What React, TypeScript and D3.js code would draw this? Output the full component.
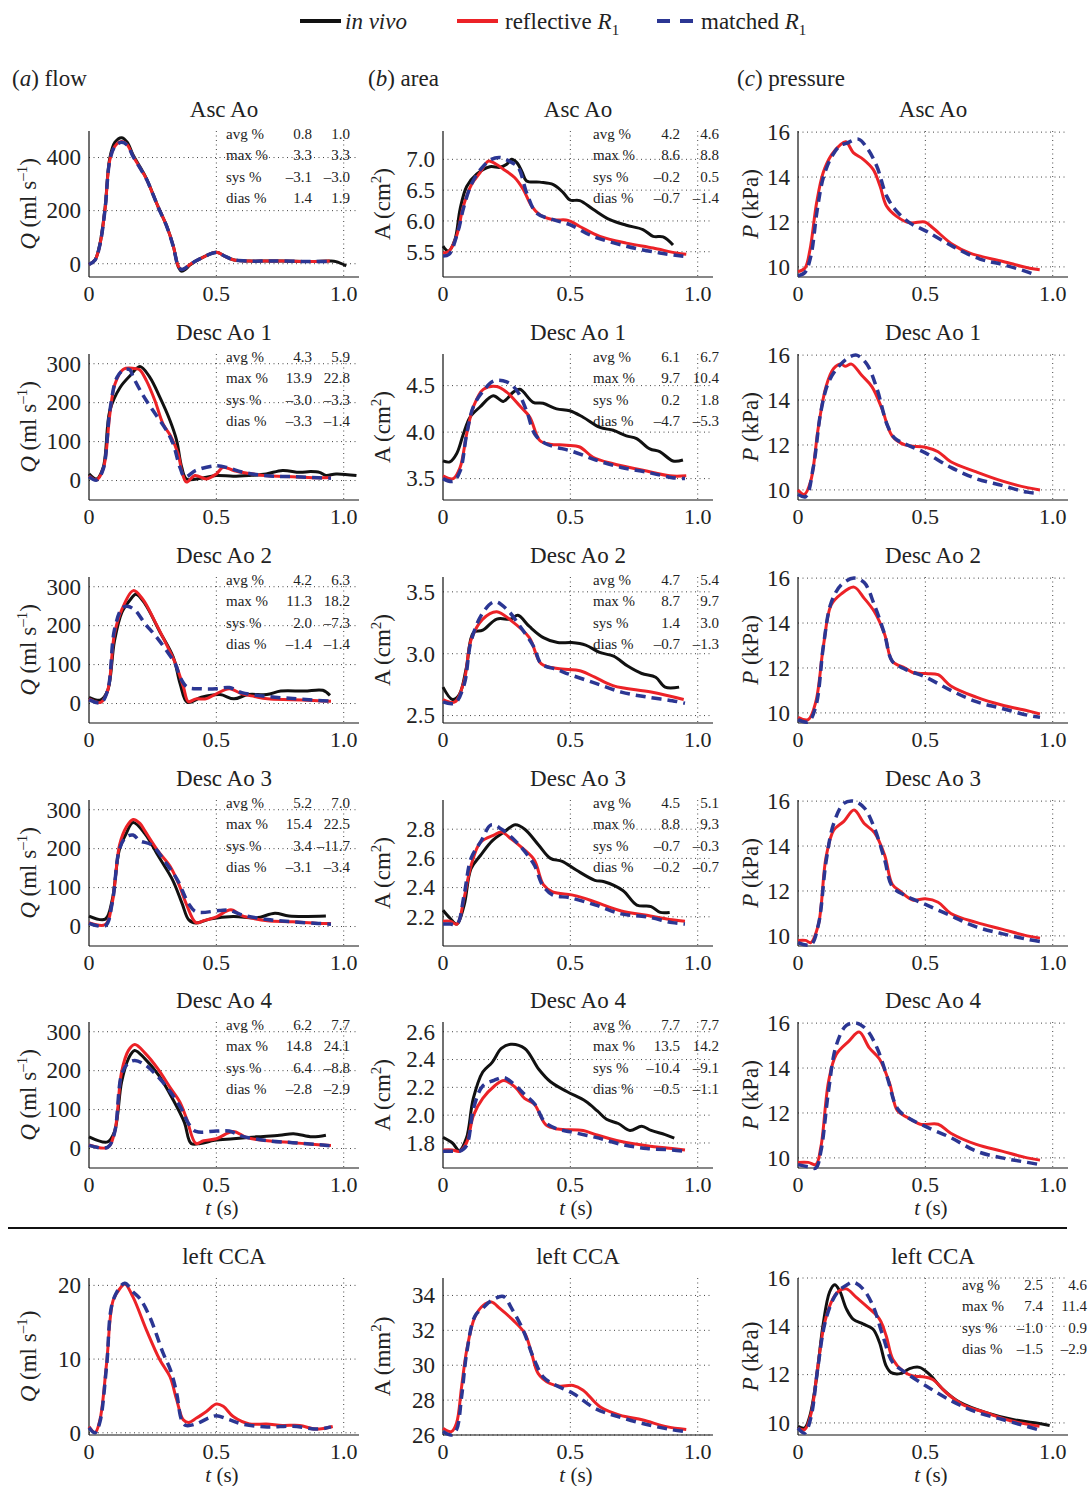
import React from "react";
import * as d3 from "d3";

type Pt = [number, number];

// ---------- data: (t [s], value) ----------
const ascFlowVivo: Pt[] = [[0,-3],[0.024,15],[0.043,75],[0.063,210],[0.082,400],[0.102,458],[0.128,475],[0.15,458],[0.173,410],[0.2,365],[0.226,320],[0.25,265],[0.272,213],[0.305,142],[0.331,66],[0.35,-10],[0.363,-28],[0.38,-20],[0.396,-5],[0.435,18],[0.5,43],[0.53,30],[0.566,15],[0.63,10],[0.7,10],[0.76,10],[0.87,8],[0.945,10],[0.97,8],[1.01,-8]];
const ascFlowRefl: Pt[] = [[0,-3],[0.024,15],[0.043,72],[0.063,206],[0.082,392],[0.102,443],[0.128,460],[0.15,448],[0.173,405],[0.2,362],[0.226,318],[0.25,264],[0.272,213],[0.305,142],[0.331,66],[0.35,-8],[0.363,-22],[0.38,-15],[0.396,-3],[0.435,18],[0.5,43],[0.53,30],[0.566,15],[0.63,10],[0.7,10],[0.76,10],[0.87,8],[0.945,10]];
const ascFlowMatch: Pt[] = [[0,-3],[0.024,14],[0.043,72],[0.063,204],[0.082,390],[0.102,442],[0.128,458],[0.15,447],[0.173,404],[0.2,361],[0.226,318],[0.25,264],[0.272,212],[0.305,141],[0.331,64],[0.35,-8],[0.363,-22],[0.38,-15],[0.396,-3],[0.435,18],[0.5,42],[0.53,30],[0.566,15],[0.63,10],[0.7,10],[0.76,10],[0.87,8],[0.945,9]];

const ascAreaVivo: Pt[] = [[0,5.59],[0.021,5.51],[0.047,5.7],[0.067,6.19],[0.093,6.56],[0.132,6.76],[0.184,6.88],[0.224,6.87],[0.25,6.92],[0.269,7.0],[0.289,6.95],[0.31,6.8],[0.328,6.65],[0.38,6.63],[0.433,6.59],[0.472,6.46],[0.498,6.34],[0.537,6.33],[0.589,6.19],[0.655,6.02],[0.72,5.93],[0.785,5.86],[0.825,5.75],[0.864,5.74],[0.903,5.61]];
const ascAreaRefl: Pt[] = [[0,5.48],[0.024,5.51],[0.053,5.75],[0.08,6.24],[0.112,6.59],[0.145,6.78],[0.178,6.97],[0.196,6.95],[0.237,6.84],[0.282,6.7],[0.315,6.51],[0.348,6.24],[0.38,6.1],[0.433,6.02],[0.491,6.01],[0.537,5.91],[0.616,5.75],[0.72,5.64],[0.825,5.56],[0.916,5.48],[0.955,5.46]];
const ascAreaMatch: Pt[] = [[0,5.43],[0.024,5.46],[0.06,5.85],[0.08,6.2],[0.112,6.6],[0.15,6.85],[0.19,7.0],[0.224,7.03],[0.26,6.97],[0.295,6.87],[0.328,6.46],[0.367,6.13],[0.433,6.02],[0.498,5.94],[0.589,5.75],[0.72,5.59],[0.851,5.48],[0.955,5.42]];

const ascPresRefl: Pt[] = [[0,9.79],[0.027,9.94],[0.047,10.76],[0.073,12.85],[0.099,14.2],[0.132,15.0],[0.165,15.42],[0.188,15.57],[0.217,15.09],[0.256,14.79],[0.295,14.34],[0.322,13.6],[0.348,12.7],[0.387,12.25],[0.439,11.96],[0.498,12.0],[0.53,11.73],[0.609,10.98],[0.675,10.61],[0.805,10.24],[0.91,9.94],[0.949,9.87]];
const ascPresMatch: Pt[] = [[0,9.6],[0.027,9.75],[0.05,10.46],[0.075,12.5],[0.1,14.0],[0.132,14.9],[0.165,15.4],[0.19,15.5],[0.237,15.69],[0.27,15.31],[0.309,14.49],[0.348,13.15],[0.387,12.48],[0.44,11.95],[0.505,11.58],[0.609,10.9],[0.714,10.35],[0.805,10.1],[0.897,9.79],[0.93,9.65]];

const desc1FlowVivo: Pt[] = [[0,17],[0.03,4],[0.056,34],[0.082,180],[0.122,239],[0.161,269],[0.2,293],[0.239,265],[0.278,214],[0.318,154],[0.344,103],[0.364,34],[0.383,4],[0.44,6],[0.5,13],[0.566,11],[0.63,13],[0.696,17],[0.76,26],[0.827,21],[0.87,23],[0.905,21],[0.93,13],[0.97,17],[1.05,13]];
const desc1FlowRefl: Pt[] = [[0,12],[0.03,2],[0.056,30],[0.082,171],[0.102,248],[0.135,286],[0.187,287],[0.2,284],[0.226,256],[0.259,205],[0.291,145],[0.32,115],[0.35,68],[0.367,17],[0.383,-4],[0.416,13],[0.461,4],[0.5,17],[0.527,34],[0.57,25],[0.63,18],[0.7,12],[0.8,10],[0.9,7],[0.95,8]];
const desc1FlowMatch: Pt[] = [[0,10],[0.03,1],[0.056,30],[0.082,180],[0.11,265],[0.14,286],[0.161,284],[0.174,265],[0.213,218],[0.252,179],[0.305,128],[0.33,95],[0.357,34],[0.376,9],[0.42,26],[0.5,38],[0.55,32],[0.6,22],[0.7,12],[0.8,10],[0.9,7],[0.95,6]];

const desc1AreaVivo: Pt[] = [[0,3.69],[0.027,3.68],[0.054,3.77],[0.08,3.98],[0.106,4.16],[0.145,4.27],[0.197,4.39],[0.237,4.33],[0.276,4.43],[0.302,4.46],[0.354,4.32],[0.393,4.31],[0.446,4.25],[0.498,4.23],[0.55,4.16],[0.616,4.05],[0.668,4.02],[0.72,3.96],[0.76,3.93],[0.812,3.82],[0.851,3.79],[0.903,3.69],[0.942,3.7]];
const desc1AreaRefl: Pt[] = [[0,3.53],[0.04,3.5],[0.067,3.62],[0.093,3.98],[0.119,4.27],[0.158,4.46],[0.21,4.49],[0.25,4.43],[0.302,4.28],[0.341,4.16],[0.38,3.91],[0.42,3.87],[0.485,3.86],[0.537,3.84],[0.589,3.73],[0.668,3.66],[0.785,3.59],[0.89,3.53],[0.955,3.53]];
const desc1AreaMatch: Pt[] = [[0,3.5],[0.04,3.47],[0.067,3.58],[0.093,3.98],[0.12,4.28],[0.16,4.45],[0.2,4.55],[0.25,4.54],[0.289,4.45],[0.328,4.23],[0.36,3.98],[0.4,3.88],[0.511,3.79],[0.6,3.7],[0.7,3.62],[0.8,3.57],[0.9,3.51],[0.95,3.5]];

const desc1PresRefl: Pt[] = [[0,10.0],[0.025,9.8],[0.05,10.4],[0.08,12.8],[0.11,14.6],[0.14,15.4],[0.17,15.6],[0.185,15.5],[0.21,15.6],[0.25,15.1],[0.29,14.6],[0.33,13.6],[0.37,12.4],[0.42,12.0],[0.5,11.9],[0.55,11.7],[0.6,11.25],[0.7,10.8],[0.8,10.4],[0.9,10.1],[0.95,10.0]];
const desc1PresMatch: Pt[] = [[0,9.8],[0.03,9.7],[0.06,11.0],[0.09,13.5],[0.12,14.8],[0.16,15.5],[0.2,15.9],[0.23,16.0],[0.27,15.6],[0.31,14.5],[0.35,12.9],[0.38,12.3],[0.43,12.0],[0.5,11.65],[0.6,11.0],[0.7,10.5],[0.8,10.2],[0.9,9.9],[0.95,9.85]];

const desc2FlowVivo: Pt[] = [[0,16],[0.046,9],[0.073,33],[0.1,161],[0.129,234],[0.16,265],[0.184,281],[0.22,256],[0.276,187],[0.331,119],[0.358,50],[0.386,3],[0.441,16],[0.514,23],[0.569,12],[0.624,23],[0.698,23],[0.753,32],[0.845,32],[0.918,34],[0.946,21]];
const desc2FlowRefl: Pt[] = [[0,12],[0.046,3],[0.073,33],[0.1,179],[0.13,243],[0.174,290],[0.211,268],[0.257,213],[0.303,153],[0.34,102],[0.371,42],[0.39,5],[0.42,12],[0.459,12],[0.5,25],[0.551,38],[0.6,25],[0.65,18],[0.7,12],[0.8,10],[0.9,7],[0.95,6]];
const desc2FlowMatch: Pt[] = [[0,10],[0.046,2],[0.073,33],[0.1,190],[0.13,245],[0.15,250],[0.18,240],[0.22,205],[0.26,175],[0.3,140],[0.34,100],[0.358,67],[0.386,42],[0.441,38],[0.5,38],[0.551,41],[0.6,28],[0.7,18],[0.8,13],[0.9,8],[0.95,6]];

const desc2AreaVivo: Pt[] = [[0,2.73],[0.037,2.63],[0.064,2.67],[0.092,2.89],[0.119,3.17],[0.156,3.19],[0.211,3.28],[0.266,3.28],[0.294,3.31],[0.339,3.22],[0.394,3.13],[0.45,3.09],[0.505,3.09],[0.56,3.07],[0.615,3.01],[0.67,2.98],[0.725,2.9],[0.78,2.84],[0.835,2.81],[0.872,2.73],[0.927,2.73]];
const desc2AreaRefl: Pt[] = [[0,2.63],[0.046,2.61],[0.083,2.78],[0.11,3.11],[0.156,3.28],[0.211,3.34],[0.266,3.27],[0.339,3.13],[0.385,2.92],[0.45,2.88],[0.541,2.86],[0.596,2.81],[0.67,2.74],[0.817,2.69],[0.945,2.63]];
const desc2AreaMatch: Pt[] = [[0,2.61],[0.046,2.6],[0.083,2.75],[0.11,3.1],[0.156,3.33],[0.202,3.42],[0.25,3.36],[0.303,3.22],[0.358,3.05],[0.385,2.92],[0.45,2.87],[0.5,2.83],[0.6,2.76],[0.7,2.69],[0.8,2.65],[0.9,2.62],[0.95,2.6]];

const desc2PresRefl: Pt[] = [[0,9.8],[0.04,9.7],[0.07,10.5],[0.1,13.0],[0.13,14.8],[0.17,15.3],[0.22,15.6],[0.26,15.1],[0.3,14.5],[0.34,13.5],[0.37,12.3],[0.42,12.0],[0.45,11.8],[0.5,11.75],[0.55,11.7],[0.6,11.2],[0.7,10.7],[0.8,10.35],[0.9,10.1],[0.95,9.95]];
const desc2PresMatch: Pt[] = [[0,9.7],[0.04,9.6],[0.07,10.3],[0.1,13.0],[0.13,14.9],[0.17,15.7],[0.22,16.0],[0.26,15.8],[0.3,14.8],[0.34,13.5],[0.37,12.3],[0.42,11.95],[0.5,11.6],[0.6,11.0],[0.7,10.5],[0.8,10.2],[0.9,9.9],[0.95,9.8]];

const desc3FlowVivo: Pt[] = [[0,27],[0.064,19],[0.091,68],[0.119,197],[0.146,239],[0.173,267],[0.219,239],[0.274,179],[0.328,120],[0.365,60],[0.392,17],[0.42,9],[0.474,19],[0.566,26],[0.657,22],[0.73,34],[0.785,27],[0.93,27]];
const desc3FlowRefl: Pt[] = [[0,10],[0.064,5],[0.091,60],[0.12,210],[0.146,255],[0.173,275],[0.2,265],[0.22,245],[0.27,195],[0.319,154],[0.356,103],[0.383,56],[0.42,10],[0.45,15],[0.5,25],[0.557,43],[0.6,28],[0.65,20],[0.7,15],[0.8,12],[0.9,8],[0.95,8]];
const desc3FlowMatch: Pt[] = [[0,8],[0.064,2],[0.091,60],[0.12,200],[0.146,230],[0.173,235],[0.2,220],[0.246,210],[0.3,165],[0.347,120],[0.39,60],[0.42,38],[0.511,41],[0.55,42],[0.6,30],[0.7,18],[0.8,12],[0.9,8],[0.95,6]];

const desc3AreaVivo: Pt[] = [[0,2.245],[0.028,2.19],[0.055,2.15],[0.083,2.28],[0.11,2.53],[0.147,2.62],[0.193,2.72],[0.239,2.78],[0.284,2.83],[0.321,2.8],[0.376,2.69],[0.422,2.6],[0.468,2.58],[0.523,2.52],[0.596,2.45],[0.633,2.44],[0.706,2.38],[0.761,2.28],[0.817,2.27],[0.853,2.23],[0.89,2.23]];
const desc3AreaRefl: Pt[] = [[0,2.17],[0.028,2.17],[0.055,2.15],[0.083,2.33],[0.11,2.55],[0.147,2.71],[0.2,2.76],[0.23,2.78],[0.27,2.73],[0.312,2.67],[0.358,2.59],[0.394,2.42],[0.43,2.37],[0.505,2.35],[0.55,2.33],[0.6,2.3],[0.7,2.24],[0.8,2.21],[0.9,2.18],[0.95,2.17]];
const desc3AreaMatch: Pt[] = [[0,2.15],[0.028,2.15],[0.055,2.15],[0.083,2.35],[0.11,2.6],[0.15,2.72],[0.189,2.83],[0.23,2.8],[0.284,2.72],[0.32,2.65],[0.36,2.55],[0.39,2.42],[0.43,2.35],[0.5,2.33],[0.6,2.28],[0.7,2.22],[0.8,2.2],[0.9,2.16],[0.95,2.15]];

const desc3PresRefl: Pt[] = [[0,9.8],[0.03,9.8],[0.05,9.7],[0.08,10.5],[0.11,13.5],[0.14,14.7],[0.18,15.1],[0.22,15.6],[0.26,15.0],[0.3,14.6],[0.34,13.6],[0.37,12.3],[0.4,12.0],[0.45,11.6],[0.5,11.65],[0.55,11.5],[0.6,11.0],[0.7,10.6],[0.8,10.3],[0.9,10.0],[0.95,9.9]];
const desc3PresMatch: Pt[] = [[0,9.7],[0.05,9.6],[0.08,10.5],[0.11,13.3],[0.14,15.0],[0.18,15.9],[0.22,16.0],[0.26,15.7],[0.3,14.8],[0.34,13.4],[0.37,12.2],[0.42,11.8],[0.5,11.4],[0.6,10.9],[0.7,10.4],[0.8,10.1],[0.9,9.85],[0.95,9.75]];

const desc4FlowVivo: Pt[] = [[0,30],[0.073,17],[0.1,43],[0.128,171],[0.155,231],[0.179,252],[0.219,231],[0.274,188],[0.328,128],[0.374,68],[0.401,13],[0.438,13],[0.493,21],[0.566,25],[0.657,30],[0.748,34],[0.803,38],[0.876,30],[0.93,34]];
const desc4FlowRefl: Pt[] = [[0,9],[0.073,3],[0.1,40],[0.128,197],[0.155,252],[0.18,267],[0.22,245],[0.27,205],[0.32,155],[0.356,120],[0.383,77],[0.42,13],[0.45,20],[0.5,25],[0.566,44],[0.62,28],[0.7,20],[0.8,15],[0.9,10],[0.95,8]];
const desc4FlowMatch: Pt[] = [[0,8],[0.073,3],[0.1,40],[0.128,190],[0.155,220],[0.18,226],[0.22,215],[0.27,185],[0.32,145],[0.36,105],[0.39,65],[0.42,44],[0.5,45],[0.55,45],[0.6,32],[0.7,20],[0.8,15],[0.9,10],[0.95,7]];

const desc4AreaVivo: Pt[] = [[0,1.84],[0.037,1.8],[0.064,1.745],[0.092,1.835],[0.119,2.12],[0.156,2.31],[0.193,2.38],[0.229,2.48],[0.266,2.51],[0.321,2.48],[0.376,2.33],[0.422,2.24],[0.486,2.17],[0.56,2.1],[0.606,2.03],[0.642,1.97],[0.688,1.94],[0.734,1.89],[0.78,1.92],[0.817,1.89],[0.872,1.86],[0.908,1.835]];
const desc4AreaRefl: Pt[] = [[0,1.75],[0.037,1.75],[0.064,1.74],[0.092,1.8],[0.12,2.0],[0.156,2.12],[0.202,2.21],[0.239,2.25],[0.284,2.2],[0.32,2.12],[0.358,2.08],[0.404,1.93],[0.45,1.9],[0.55,1.89],[0.6,1.86],[0.7,1.81],[0.8,1.78],[0.9,1.76],[0.95,1.75]];
const desc4AreaMatch: Pt[] = [[0,1.74],[0.037,1.74],[0.064,1.74],[0.092,1.78],[0.12,2.05],[0.156,2.21],[0.2,2.25],[0.24,2.27],[0.28,2.22],[0.32,2.15],[0.36,2.08],[0.4,1.95],[0.45,1.9],[0.5,1.88],[0.6,1.84],[0.7,1.79],[0.8,1.76],[0.9,1.75],[0.95,1.74]];

const desc4PresRefl: Pt[] = [[0,9.8],[0.04,9.8],[0.07,9.7],[0.09,10.5],[0.12,13.4],[0.15,14.6],[0.2,15.2],[0.24,15.6],[0.28,14.9],[0.32,14.4],[0.36,13.3],[0.39,12.1],[0.43,11.8],[0.48,11.5],[0.55,11.5],[0.6,11.1],[0.7,10.6],[0.8,10.3],[0.9,10.0],[0.95,9.9]];
const desc4PresMatch: Pt[] = [[0,9.7],[0.04,9.6],[0.07,9.55],[0.09,10.3],[0.12,13.0],[0.15,15.0],[0.19,15.9],[0.23,16.0],[0.27,15.7],[0.31,14.9],[0.35,13.6],[0.39,12.2],[0.43,11.8],[0.5,11.4],[0.6,10.9],[0.7,10.3],[0.8,10.0],[0.9,9.8],[0.95,9.7]];

const ccaFlowRefl: Pt[] = [[0,0.85],[0.024,0.05],[0.043,1.76],[0.069,9.4],[0.095,18],[0.122,19.6],[0.141,20.2],[0.173,18.4],[0.226,13.9],[0.278,9.9],[0.318,7.6],[0.344,4.5],[0.37,1.76],[0.39,1.4],[0.422,2.0],[0.461,2.9],[0.5,3.9],[0.527,3.6],[0.566,2.2],[0.63,1.2],[0.696,1.2],[0.76,1.0],[0.827,1.0],[0.89,0.5],[0.957,0.85]];
const ccaFlowMatch: Pt[] = [[0,0.7],[0.024,0],[0.043,1.5],[0.069,9],[0.095,18],[0.14,20.3],[0.173,19.1],[0.2,18.2],[0.239,15.7],[0.291,10.8],[0.32,8.5],[0.344,5.4],[0.363,1.8],[0.38,1.0],[0.42,1.2],[0.47,2.0],[0.5,2.3],[0.55,1.8],[0.6,1.2],[0.7,0.8],[0.8,0.9],[0.9,0.5],[0.95,0.8]];

const ccaAreaRefl: Pt[] = [[0,26.38],[0.033,26.19],[0.053,26.67],[0.073,28.76],[0.093,30.86],[0.125,32.76],[0.158,33.43],[0.19,33.62],[0.224,33.24],[0.276,32.57],[0.322,31.81],[0.348,30.67],[0.374,29.52],[0.42,28.95],[0.459,28.8],[0.511,28.84],[0.55,28.57],[0.616,27.62],[0.694,27.14],[0.785,26.86],[0.877,26.48],[0.955,26.32]];
const ccaAreaMatch: Pt[] = [[0,26.2],[0.033,26.0],[0.053,26.3],[0.073,28.2],[0.093,30.7],[0.125,32.8],[0.158,33.3],[0.19,33.7],[0.237,33.94],[0.27,33.24],[0.315,32.0],[0.354,30.47],[0.393,29.33],[0.43,28.95],[0.511,28.38],[0.6,27.5],[0.7,27.0],[0.8,26.6],[0.9,26.3],[0.95,26.2]];

const ccaPresVivo: Pt[] = [[0,9.86],[0.026,9.79],[0.046,10.27],[0.072,11.8],[0.098,14.03],[0.124,15.42],[0.144,15.72],[0.163,15.48],[0.19,14.72],[0.216,14.3],[0.255,14.1],[0.294,13.89],[0.32,13.33],[0.346,12.36],[0.366,12.08],[0.405,12.05],[0.438,12.25],[0.477,12.3],[0.516,12.01],[0.569,11.39],[0.634,10.86],[0.739,10.42],[0.843,10.14],[0.935,10.0],[0.988,9.89]];
const ccaPresRefl: Pt[] = [[0,9.79],[0.026,9.72],[0.052,10.42],[0.078,12.36],[0.105,14.17],[0.137,15.14],[0.163,15.48],[0.19,15.55],[0.229,15.2],[0.281,14.72],[0.32,14.3],[0.346,13.61],[0.372,12.64],[0.412,12.15],[0.451,11.94],[0.49,11.91],[0.529,11.8],[0.582,11.25],[0.647,10.76],[0.739,10.42],[0.843,10.07],[0.948,9.86]];
const ccaPresMatch: Pt[] = [[0,9.79],[0.026,9.58],[0.05,10.2],[0.078,12.3],[0.105,14.1],[0.137,15.1],[0.163,15.5],[0.19,15.7],[0.216,15.83],[0.255,15.55],[0.294,14.86],[0.333,13.61],[0.372,12.5],[0.42,12.1],[0.503,11.53],[0.608,10.88],[0.7,10.45],[0.8,10.15],[0.9,9.85],[0.95,9.7]];

// ---------- tick labels / titles / stats ----------
const rowTitles = ["Asc Ao", "Desc Ao 1", "Desc Ao 2", "Desc Ao 3", "Desc Ao 4", "left CCA"];
const columnHeads = [["a", "flow"], ["b", "area"], ["c", "pressure"]];
const xTicks = [0, 0.5, 1.0];
const statLabels = ["avg %", "max %", "sys %", "dias %"];

const flowTicksAsc = [0, 200, 400];
const flowTicksDesc = [0, 100, 200, 300];
const flowTicksCca = [0, 10, 20];
const areaTicks = [[5.5, 6.0, 6.5, 7.0], [3.5, 4.0, 4.5], [2.5, 3.0, 3.5], [2.2, 2.4, 2.6, 2.8], [1.8, 2.0, 2.2, 2.4, 2.6], [26, 28, 30, 32, 34]];
const presTicks = [10, 12, 14, 16];

const statsFlow = [
  [["0.8", "1.0"], ["3.3", "3.3"], ["–3.1", "–3.0"], ["1.4", "1.9"]],
  [["4.3", "5.9"], ["13.9", "22.8"], ["–3.0", "–3.3"], ["–3.3", "–1.4"]],
  [["4.2", "6.3"], ["11.3", "18.2"], ["2.0", "–7.3"], ["–1.4", "–1.4"]],
  [["5.2", "7.0"], ["15.4", "22.5"], ["3.4", "–11.7"], ["–3.1", "–3.4"]],
  [["6.2", "7.7"], ["14.8", "24.1"], ["6.4", "–8.8"], ["–2.8", "–2.9"]],
];
const statsArea = [
  [["4.2", "4.6"], ["8.6", "8.8"], ["–0.2", "0.5"], ["–0.7", "–1.4"]],
  [["6.1", "6.7"], ["9.7", "10.4"], ["0.2", "1.8"], ["–4.7", "–5.3"]],
  [["4.7", "5.4"], ["8.7", "9.7"], ["1.4", "3.0"], ["–0.7", "–1.3"]],
  [["4.5", "5.1"], ["8.8", "9.3"], ["–0.7", "–0.3"], ["–0.2", "–0.7"]],
  [["7.7", "7.7"], ["13.5", "14.2"], ["–10.4", "–9.1"], ["–0.5", "–1.1"]],
];
const statsCcaPres = [["2.5", "4.6"], ["7.4", "11.4"], ["–1.0", "0.9"], ["–1.5", "–2.9"]];

// ---------- layout ----------
const FONT = "'Liberation Serif', 'DejaVu Serif', Times, serif";
const RED = "#ec2227";
const BLUE = "#2b3693";
const colLeft = [89, 443, 798];
const plotW = 270;
const xMax = 1.06;
const rowBottom = [277, 500, 723, 946, 1168, 1435];
const rowTop = [131, 354, 577, 800, 1022, 1278];
const statOffsets = [[137, 223, 261], [150, 237, 276], [164, 245, 289]];

type PanelDef = {
  row: number; col: number; yDomain: [number, number]; yTicks: number[]; fmt: (v: number) => string;
  ylab: "Q" | "Acm" | "P" | "Amm"; vivo?: Pt[]; refl: Pt[]; match: Pt[]; stats?: string[][]; statDy?: number;
};

const int = (v: number) => d3.format("d")(v);
const one = (v: number) => d3.format(".1f")(v);

const flowSeries = [
  [ascFlowVivo, ascFlowRefl, ascFlowMatch],
  [desc1FlowVivo, desc1FlowRefl, desc1FlowMatch],
  [desc2FlowVivo, desc2FlowRefl, desc2FlowMatch],
  [desc3FlowVivo, desc3FlowRefl, desc3FlowMatch],
  [desc4FlowVivo, desc4FlowRefl, desc4FlowMatch],
];
const areaSeries = [
  [ascAreaVivo, ascAreaRefl, ascAreaMatch],
  [desc1AreaVivo, desc1AreaRefl, desc1AreaMatch],
  [desc2AreaVivo, desc2AreaRefl, desc2AreaMatch],
  [desc3AreaVivo, desc3AreaRefl, desc3AreaMatch],
  [desc4AreaVivo, desc4AreaRefl, desc4AreaMatch],
];
const presSeries = [
  [ascPresRefl, ascPresMatch],
  [desc1PresRefl, desc1PresMatch],
  [desc2PresRefl, desc2PresMatch],
  [desc3PresRefl, desc3PresMatch],
  [desc4PresRefl, desc4PresMatch],
];
const areaDomains: [number, number][] = [[5.09, 7.46], [3.27, 4.84], [2.44, 3.62], [2.0, 3.0], [1.62, 2.67]];

const panels: PanelDef[] = [];
for (let r = 0; r < 5; r++) {
  panels.push({ row: r, col: 0, yDomain: r === 0 ? [-50, 500] : [-50, 325], yTicks: r === 0 ? flowTicksAsc : flowTicksDesc, fmt: int, ylab: "Q", vivo: flowSeries[r][0], refl: flowSeries[r][1], match: flowSeries[r][2], stats: statsFlow[r] });
  panels.push({ row: r, col: 1, yDomain: areaDomains[r], yTicks: areaTicks[r], fmt: one, ylab: "Acm", vivo: areaSeries[r][0], refl: areaSeries[r][1], match: areaSeries[r][2], stats: statsArea[r] });
  panels.push({ row: r, col: 2, yDomain: [9.55, 16.05], yTicks: presTicks, fmt: int, ylab: "P", refl: presSeries[r][0], match: presSeries[r][1] });
}
panels.push({ row: 5, col: 0, yDomain: [-0.3, 21], yTicks: flowTicksCca, fmt: int, ylab: "Q", refl: ccaFlowRefl, match: ccaFlowMatch });
panels.push({ row: 5, col: 1, yDomain: [26, 35], yTicks: areaTicks[5], fmt: int, ylab: "Amm", refl: ccaAreaRefl, match: ccaAreaMatch });
panels.push({ row: 5, col: 2, yDomain: [9.5, 16], yTicks: presTicks, fmt: int, ylab: "P", vivo: ccaPresVivo, refl: ccaPresRefl, match: ccaPresMatch, stats: statsCcaPres, statDy: 4 });

function YLabel({ kind, cx, cy }: { kind: string; cx: number; cy: number }) {
  const fs = 23;
  let content: React.ReactNode;
  if (kind === "Q") {
    content = (<><tspan fontStyle="italic">Q</tspan><tspan> (ml s</tspan><tspan dy={-9} fontSize={15}>–1</tspan><tspan dy={9}>)</tspan></>);
  } else if (kind === "Acm") {
    content = (<><tspan>A (cm</tspan><tspan dy={-9} fontSize={15}>2</tspan><tspan dy={9}>)</tspan></>);
  } else if (kind === "Amm") {
    content = (<><tspan>A (mm</tspan><tspan dy={-9} fontSize={15}>2</tspan><tspan dy={9}>)</tspan></>);
  } else {
    content = (<><tspan fontStyle="italic">P</tspan><tspan> (kPa)</tspan></>);
  }
  return (
    <text transform={`translate(${cx + 8},${cy}) rotate(-90)`} textAnchor="middle" fontSize={fs} fontFamily={FONT} fill="#222">
      {content}
    </text>
  );
}

function Panel({ p }: { p: PanelDef }) {
  const left = colLeft[p.col];
  const bottom = rowBottom[p.row];
  const top = p.row === 5 ? rowTop[5] : bottom - 146;
  const x = d3.scaleLinear().domain([0, xMax]).range([left, left + plotW]);
  const y = d3.scaleLinear().domain(p.yDomain).range([bottom, top]);
  const line = d3.line<Pt>().x((d) => x(d[0])).y((d) => y(d[1])).curve(d3.curveCatmullRom.alpha(0.5));
  const labelX = p.col === 2 ? left - 48 : left - 61;
  const off = statOffsets[p.col];
  const statTop = top + 8 + (p.statDy || 0);
  return (
    <g>
      {/* grid */}
      {p.yTicks.map((t) => (
        <line key={"h" + t} x1={left} x2={left + plotW} y1={y(t)} y2={y(t)} stroke="#444" strokeWidth={1} strokeDasharray="1,3.5" />
      ))}
      {xTicks.filter((t) => t > 0).map((t) => (
        <line key={"v" + t} x1={x(t)} x2={x(t)} y1={top} y2={bottom} stroke="#444" strokeWidth={1} strokeDasharray="1,3.5" />
      ))}
      {/* stats table */}
      {p.stats && p.stats.map((s, i) => (
        <g key={"s" + i} fontFamily={FONT} fontSize={15} fill="#222">
          <text x={left + off[0]} y={statTop + i * 21.3}>{statLabels[i]}</text>
          <text x={left + off[1]} y={statTop + i * 21.3} textAnchor="end">{s[0]}</text>
          <text x={left + off[2]} y={statTop + i * 21.3} textAnchor="end">{s[1]}</text>
        </g>
      ))}
      {/* axes */}
      <line x1={left} x2={left} y1={top} y2={bottom} stroke="#111" strokeWidth={1.2} />
      <line x1={left} x2={left + plotW} y1={bottom} y2={bottom} stroke="#111" strokeWidth={1.2} />
      {p.yTicks.map((t) => (
        <text key={"yl" + t} x={left - 8} y={y(t)} dy="0.34em" textAnchor="end" fontFamily={FONT} fontSize={23} fill="#222">{p.fmt(t)}</text>
      ))}
      {xTicks.map((t) => (
        <text key={"xl" + t} x={x(t)} y={bottom + 24} textAnchor="middle" fontFamily={FONT} fontSize={22} fill="#222">{t === 0 ? "0" : d3.format(".1f")(t)}</text>
      ))}
      <YLabel kind={p.ylab} cx={labelX} cy={(top + bottom) / 2} />
      {/* title */}
      <text x={left + 135} y={rowTop[p.row] - 14} textAnchor="middle" fontFamily={FONT} fontSize={23} fill="#222">{rowTitles[p.row]}</text>
      {(p.row === 4 || p.row === 5) && (
        <text x={left + 133} y={bottom + 47} textAnchor="middle" fontFamily={FONT} fontSize={21} fill="#222">
          <tspan fontStyle="italic">t</tspan><tspan> (s)</tspan>
        </text>
      )}
      {/* series */}
      {p.vivo && <path d={line(p.vivo) || ""} fill="none" stroke="#111" strokeWidth={3} strokeLinejoin="round" />}
      <path d={line(p.refl) || ""} fill="none" stroke={RED} strokeWidth={3} strokeLinejoin="round" />
      <path d={line(p.match) || ""} fill="none" stroke={BLUE} strokeWidth={3.5} strokeDasharray="10,6" />
    </g>
  );
}

export default function App() {
  return (
    <div style={{ position: "absolute", left: 0, top: 0 }}>
      <svg width={1091} height={1486} style={{ display: "block", background: "#fff" }}>
        {/* legend */}
        <g fontFamily={FONT} fontSize={23} fill="#222">
          <line x1={300} x2={341} y1={21} y2={21} stroke="#111" strokeWidth={4} />
          <text x={345} y={29} fontStyle="italic">in vivo</text>
          <line x1={457} x2={498} y1={21} y2={21} stroke={RED} strokeWidth={4} />
          <text x={505} y={29}>reflective <tspan fontStyle="italic">R</tspan><tspan dy={6} fontSize={15}>1</tspan></text>
          <line x1={657} x2={694} y1={21} y2={21} stroke={BLUE} strokeWidth={4} strokeDasharray="13,10" />
          <text x={701} y={29}>matched <tspan fontStyle="italic">R</tspan><tspan dy={6} fontSize={15}>1</tspan></text>
        </g>
        {/* column heads */}
        {columnHeads.map((h, i) => (
          <text key={h[0]} x={[12, 368, 737][i]} y={86} fontFamily={FONT} fontSize={23} fill="#222">
            (<tspan fontStyle="italic">{h[0]}</tspan>) {h[1]}
          </text>
        ))}
        <line x1={8} x2={1067} y1={1228} y2={1228} stroke="#111" strokeWidth={2} />
        {panels.map((p, i) => <Panel key={i} p={p} />)}
      </svg>
    </div>
  );
}
